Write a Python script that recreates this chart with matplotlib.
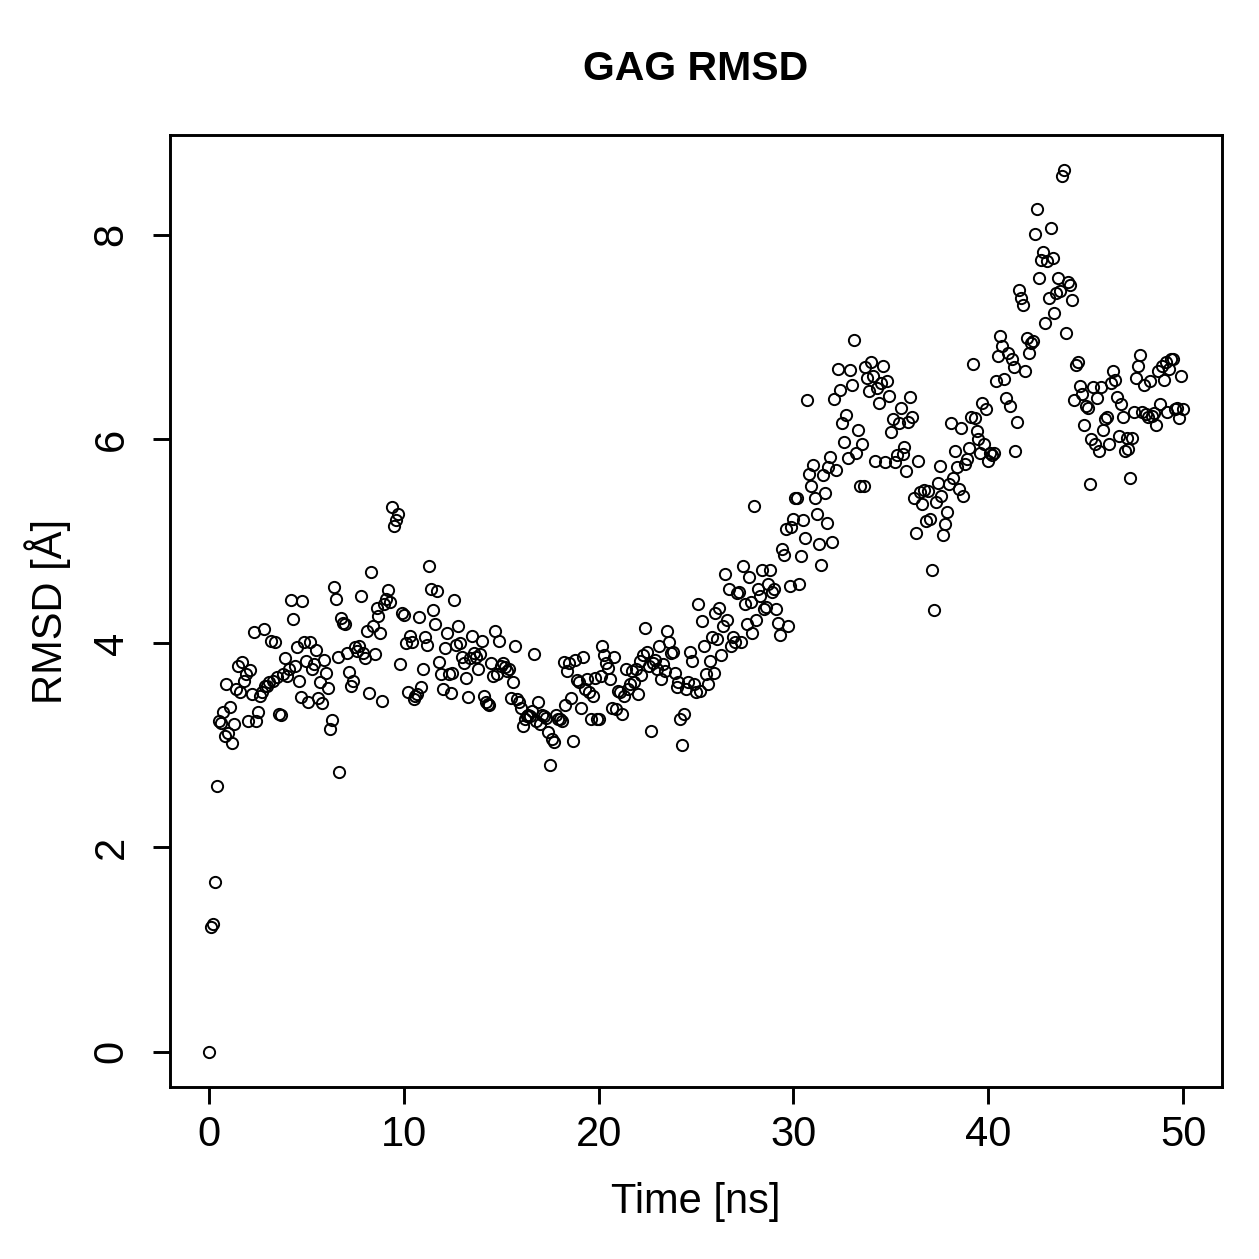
import matplotlib
matplotlib.use("Agg")
import matplotlib.pyplot as plt
import numpy as np

rmsd_00_10 = [
    0.00, 1.22, 1.25, 1.66, 2.60, 3.24, 3.22, 3.33, 3.09, 3.60,
    3.12, 3.38, 3.02, 3.21, 3.55, 3.78, 3.52, 3.82, 3.63, 3.70,
    3.24, 3.74, 3.50, 4.11, 3.24, 3.33, 3.48, 3.52, 4.14, 3.58,
    3.58, 3.62, 4.02, 3.63, 4.01, 3.67, 3.31, 3.30, 3.70, 3.85,
    3.68, 3.75, 4.42, 4.24, 3.78, 3.96, 3.63, 3.47, 4.41, 4.01,
    3.83, 3.42, 4.01, 3.75, 3.80, 3.93, 3.46, 3.62, 3.41, 3.84,
    3.71, 3.56, 3.16, 3.25, 4.55, 4.43, 3.86, 2.74, 4.25, 4.20,
    4.19, 3.90, 3.72, 3.58, 3.63, 3.96, 3.92, 3.97, 4.46, 3.90,
    3.85, 4.12, 3.51, 4.70, 4.17, 3.89, 4.34, 4.27, 4.10, 3.43,
    4.38, 4.43, 4.52, 4.40, 5.33, 5.15, 5.21, 5.26, 3.80, 4.30,
]
rmsd_10_20 = [
    4.28, 4.00, 3.52, 4.07, 4.01, 3.45, 3.48, 3.50, 4.26, 3.57,
    3.75, 4.06, 3.98, 4.76, 4.53, 4.32, 4.19, 4.51, 3.82, 3.70,
    3.55, 3.95, 4.10, 3.70, 3.51, 3.71, 4.42, 3.98, 4.17, 4.00,
    3.86, 3.81, 3.66, 3.47, 3.85, 4.07, 3.90, 3.86, 3.75, 3.89,
    4.02, 3.48, 3.42, 3.40, 3.39, 3.81, 3.68, 4.12, 3.70, 4.02,
    3.78, 3.81, 3.77, 3.73, 3.75, 3.46, 3.62, 3.97, 3.45, 3.42,
    3.37, 3.19, 3.26, 3.29, 3.30, 3.29, 3.34, 3.89, 3.24, 3.42,
    3.21, 3.30, 3.29, 3.27, 3.13, 2.81, 3.06, 3.03, 3.30, 3.26,
    3.26, 3.24, 3.82, 3.39, 3.73, 3.81, 3.46, 3.04, 3.84, 3.64,
    3.62, 3.37, 3.86, 3.55, 3.65, 3.52, 3.26, 3.48, 3.66, 3.26,
]
rmsd_20_30 = [
    3.26, 3.68, 3.97, 3.88, 3.81, 3.76, 3.65, 3.37, 3.86, 3.36,
    3.53, 3.52, 3.31, 3.48, 3.75, 3.55, 3.60, 3.73, 3.62, 3.75,
    3.50, 3.83, 3.69, 3.88, 4.15, 3.91, 3.78, 3.14, 3.81, 3.84,
    3.75, 3.97, 3.65, 3.80, 3.73, 4.12, 4.01, 3.90, 3.91, 3.71,
    3.57, 3.62, 3.26, 3.00, 3.31, 3.55, 3.62, 3.91, 3.83, 3.60,
    3.52, 4.38, 3.53, 4.22, 3.97, 3.70, 3.60, 3.83, 4.06, 3.71,
    4.30, 4.04, 4.34, 3.88, 4.17, 4.68, 4.23, 4.53, 3.97, 4.06,
    4.01, 4.49, 4.50, 4.01, 4.76, 4.38, 4.19, 4.65, 4.40, 4.10,
    5.34, 4.23, 4.53, 4.46, 4.72, 4.33, 4.35, 4.58, 4.72, 4.50,
    4.53, 4.33, 4.20, 4.08, 4.92, 4.86, 5.12, 4.17, 4.56, 5.14,
]
rmsd_30_40 = [
    5.22, 5.42, 5.42, 4.58, 4.85, 5.21, 5.03, 6.38, 5.66, 5.54,
    5.74, 5.42, 5.26, 4.97, 4.77, 5.65, 5.47, 5.18, 5.72, 5.82,
    4.99, 6.39, 5.70, 6.68, 6.48, 6.16, 5.97, 6.23, 5.81, 6.67,
    6.53, 6.97, 5.86, 6.09, 5.54, 5.95, 5.54, 6.70, 6.60, 6.47,
    6.75, 6.62, 5.78, 6.50, 6.35, 6.55, 6.71, 5.77, 6.57, 6.42,
    6.07, 6.19, 5.77, 5.84, 6.16, 6.30, 5.85, 5.92, 5.69, 6.17,
    6.41, 6.21, 5.42, 5.08, 5.78, 5.48, 5.36, 5.50, 5.20, 5.49,
    5.22, 4.72, 4.32, 5.38, 5.57, 5.73, 5.44, 5.06, 5.17, 5.28,
    5.56, 6.16, 5.62, 5.88, 5.72, 5.51, 6.11, 5.44, 5.75, 5.80,
    5.91, 6.21, 6.73, 6.20, 6.08, 6.00, 5.86, 6.35, 5.95, 6.29,
]
rmsd_40_50 = [
    5.78, 5.86, 5.84, 5.86, 6.57, 6.81, 7.01, 6.91, 6.59, 6.40,
    6.84, 6.32, 6.78, 6.70, 5.88, 6.17, 7.46, 7.38, 7.31, 6.66,
    6.99, 6.84, 6.94, 6.96, 8.01, 8.25, 7.58, 7.75, 7.83, 7.13,
    7.74, 7.38, 8.06, 7.77, 7.23, 7.43, 7.58, 7.45, 8.57, 8.63,
    7.04, 7.54, 7.51, 7.36, 6.38, 6.72, 6.75, 6.52, 6.44, 6.14,
    6.32, 6.30, 5.56, 6.00, 6.51, 5.95, 6.40, 5.88, 6.51, 6.09,
    6.19, 6.21, 5.95, 6.55, 6.66, 6.58, 6.41, 6.03, 6.34, 6.21,
    5.88, 6.01, 5.90, 5.62, 6.01, 6.26, 6.60, 6.71, 6.82, 6.26,
    6.53, 6.24, 6.21, 6.57, 6.22, 6.25, 6.14, 6.66, 6.34, 6.71,
    6.58, 6.75, 6.26, 6.68, 6.78, 6.78, 6.29, 6.30, 6.20, 6.62,
]
rmsd_last = [6.29]

sample_step_ns = 0.1
x_ticks = [0, 10, 20, 30, 40, 50]
y_ticks = [0, 2, 4, 6, 8]
title = "GAG RMSD"
x_label = "Time [ns]"
y_label = "RMSD [Å]"

rmsd = np.array(rmsd_00_10 + rmsd_10_20 + rmsd_20_30 + rmsd_30_40 + rmsd_40_50 + rmsd_last)
time_ns = np.arange(len(rmsd)) * sample_step_ns

plt.rcParams["font.family"] = ["Liberation Sans", "DejaVu Sans"]

W = 1259
fig = plt.figure(figsize=(W / 100, W / 100), dpi=100)
L, R, T, B = 170, 1222, 135, 1087
ax = fig.add_axes([L / W, 1 - B / W, (R - L) / W, (B - T) / W])

ax.plot(time_ns, rmsd, linestyle="none", marker="o", markersize=8.1,
        markerfacecolor="none", markeredgecolor="black", markeredgewidth=1.4)

# R-style 4% axis expansion
xr = time_ns.max() - time_ns.min()
yr = rmsd.max() - rmsd.min()
ax.set_xlim(time_ns.min() - 0.04 * xr, time_ns.max() + 0.04 * xr)
ax.set_ylim(rmsd.min() - 0.04 * yr, rmsd.max() + 0.04 * yr)

ax.set_xticks(x_ticks)
ax.set_yticks(y_ticks)
ax.set_xticklabels([str(v) for v in x_ticks])
ax.set_yticklabels([str(v) for v in y_ticks], rotation=90, va="center")

for s in ax.spines.values():
    s.set_linewidth(2.1)
ax.tick_params(axis="both", direction="out", length=12.2, width=2.1,
               labelsize=30, color="black")
ax.tick_params(axis="x", pad=8.0)
ax.tick_params(axis="y", pad=15.5)

ax.set_xlabel(x_label, fontsize=30)
ax.set_ylabel(y_label, fontsize=30)
ax.xaxis.set_label_coords(0.5, (B - 1202) / (B - T))
ax.xaxis.label.set_va("center")
ax.yaxis.set_label_coords((48 - L) / (R - L), 0.5)
ax.yaxis.label.set_va("center")

ax.text(0.5, (B - 69) / (B - T), title, transform=ax.transAxes,
        ha="center", va="center", fontsize=29.5, fontweight="bold")

fig.savefig("out.png", dpi=100, facecolor="white")
